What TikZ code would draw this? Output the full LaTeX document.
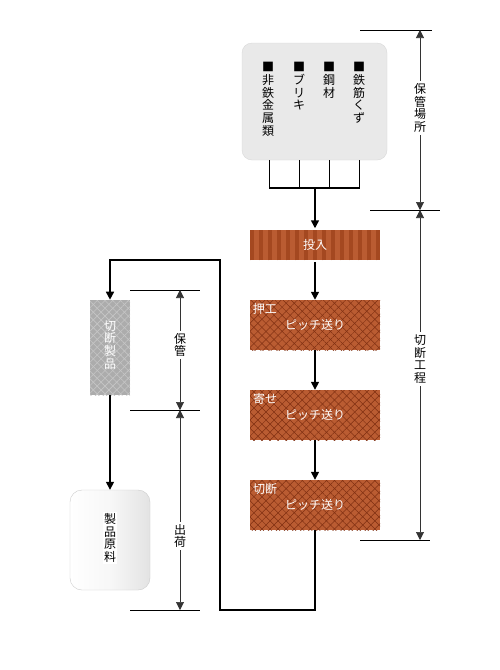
\documentclass[tikz,border=0pt]{standalone}
\usepackage{fontspec}
\newfontfamily\jp{Noto Sans CJK JP}
\usetikzlibrary{arrows.meta, positioning, calc, patterns.meta}

\definecolor{rust}{RGB}{186,92,50}
\definecolor{rustdark}{RGB}{128,48,18}
\definecolor{ruststripe}{RGB}{164,72,32}

\begin{document}
\begin{tikzpicture}[x=1pt, y=-1pt, >={Triangle[width=8pt,length=8pt]},
    flow/.style={->, line width=1.5pt},
    vtext/.style={font=\jp\fontsize{12}{12.8}\selectfont, align=center,
                  inner sep=1pt},
    procbox/.style={minimum width=130pt, minimum height=50pt, inner sep=0pt,
                    preaction={fill=rust},
                    pattern={Lines[angle=45,distance=5.7pt,line width=0.5pt]},
                    pattern color=rustdark,
                    postaction={pattern={Lines[angle=-45,distance=5.7pt,line width=0.5pt]},
                                pattern color=rustdark},
                    text=white, font=\jp\fontsize{12}{14}\selectfont},
    steplabel/.style={anchor=north west, text=white, inner sep=3pt,
                      font=\jp\fontsize{12}{14}\selectfont},
    dimline/.style={{Triangle[width=8pt,length=8pt]}-{Triangle[width=8pt,length=8pt]},
                    line width=0.6pt, black!80},
    tick/.style={line width=0.8pt},
    dimlabel/.style={vtext, fill=white, inner sep=2pt}]

  % canvas
  \fill[white] (0,0) rectangle (500,670);
  \useasboundingbox (0,0) rectangle (500,670);

  % storage yard
  \node[draw=gray!30, fill=gray!17, rounded corners=10pt, minimum width=145pt,
        minimum height=117pt] (store) at (314.5,101.5) {};
  \node[vtext, anchor=north] (itmA) at (268,61) {■\\非\\鉄\\金\\属\\類};
  \node[vtext, anchor=north] (itmB) at (299,61) {■\\ブ\\リ\\キ};
  \node[vtext, anchor=north] (itmC) at (329,61) {■\\鋼\\材};
  \node[vtext, anchor=north] (itmD) at (359,61) {■\\鉄\\筋\\く\\ず};

  % collecting lines
  \coordinate (bar) at (315,188);
  \foreach \dx in {-45,-15,15,45}
    \draw[line width=1.5pt] ($(store.south)+(\dx,0)$) |- (bar);
  \draw[line width=1.5pt] ($(store.south)+(-45,0)$) |- ($(bar)+(45,0)$);

  % cutting process
  \node[minimum width=130pt, minimum height=30pt, inner sep=0pt,
        preaction={fill=rust},
        pattern={Lines[angle=90,distance=9pt,line width=3.5pt]},
        pattern color=ruststripe, text=white,
        font=\jp\fontsize{12}{14}\selectfont] (feed) at (315,245) {投入};
  \node[procbox] (press) at (315,325) {\raisebox{-4pt}{ピッチ送り}};
  \node[procbox] (gather) at (315,415) {\raisebox{-4pt}{ピッチ送り}};
  \node[procbox] (cut) at (315,505) {\raisebox{-4pt}{ピッチ送り}};
  \node[steplabel] at (press.north west) {押工};
  \node[steplabel] at (gather.north west) {寄せ};
  \node[steplabel] at (cut.north west) {切断};

  \draw[flow] (bar) -- (feed.north);
  \draw[flow] (feed.south) -- (press.north);
  \draw[flow] (press.south) -- (gather.north);
  \draw[flow] (gather.south) -- (cut.north);

  % products
  \node[minimum width=40pt, minimum height=95pt, inner sep=0pt,
        preaction={fill=gray!65},
        pattern={Lines[angle=45,distance=5.5pt,line width=0.6pt]},
        pattern color=gray!45,
        postaction={pattern={Lines[angle=-45,distance=5.5pt,line width=0.6pt]},
                    pattern color=gray!45}] (cutprod) at (110,347.5) {};
  \node[vtext, text=white] at (110,345) {切\\断\\製\\品};
  \node[draw=gray!40, rounded corners=12pt, minimum width=80pt,
        minimum height=100pt, left color=white, right color=gray!22,
        middle color=gray!6] (raw) at (110,540) {};
  \node[vtext, fill=white] at (110,538) {製\\品\\原\\料};

  % return line
  \coordinate (back1) at (315,610);
  \coordinate (back2) at (220,260);
  \draw[line width=1.5pt, ->] (cut.south) -- (back1) -| (back2) -| (cutprod.north);
  \draw[flow] (cutprod.south) -- (raw.north);

  % dimensions, right
  \coordinate (r0) at (420,30);
  \coordinate (r1) at (420,210);
  \coordinate (r2) at (420,540);
  \draw[tick] (360,30) -- (432,30);
  \draw[tick] (370,210) -- (440,210);
  \draw[tick] (360,540) -- (430,540);
  \draw[dimline] (r0) -- (r1);
  \draw[dimline] (r1) -- (r2);
  \node[dimlabel] at (420,108) {保\\管\\場\\所};
  \node[dimlabel] at (420,359) {切\\断\\工\\程};

  % dimensions, left
  \coordinate (l0) at (180,290);
  \coordinate (l1) at (180,410);
  \coordinate (l2) at (180,610);
  \draw[tick] (130,290) -- (200,290);
  \draw[tick] (130,410) -- (200,410);
  \draw[tick] (130,610) -- (200,610);
  \draw[dimline] (l0) -- (l1);
  \draw[dimline] (l1) -- (l2);
  \node[dimlabel] at (180,345) {保\\管};
  \node[dimlabel] at (180,536) {出\\荷};
\end{tikzpicture}
\end{document}
